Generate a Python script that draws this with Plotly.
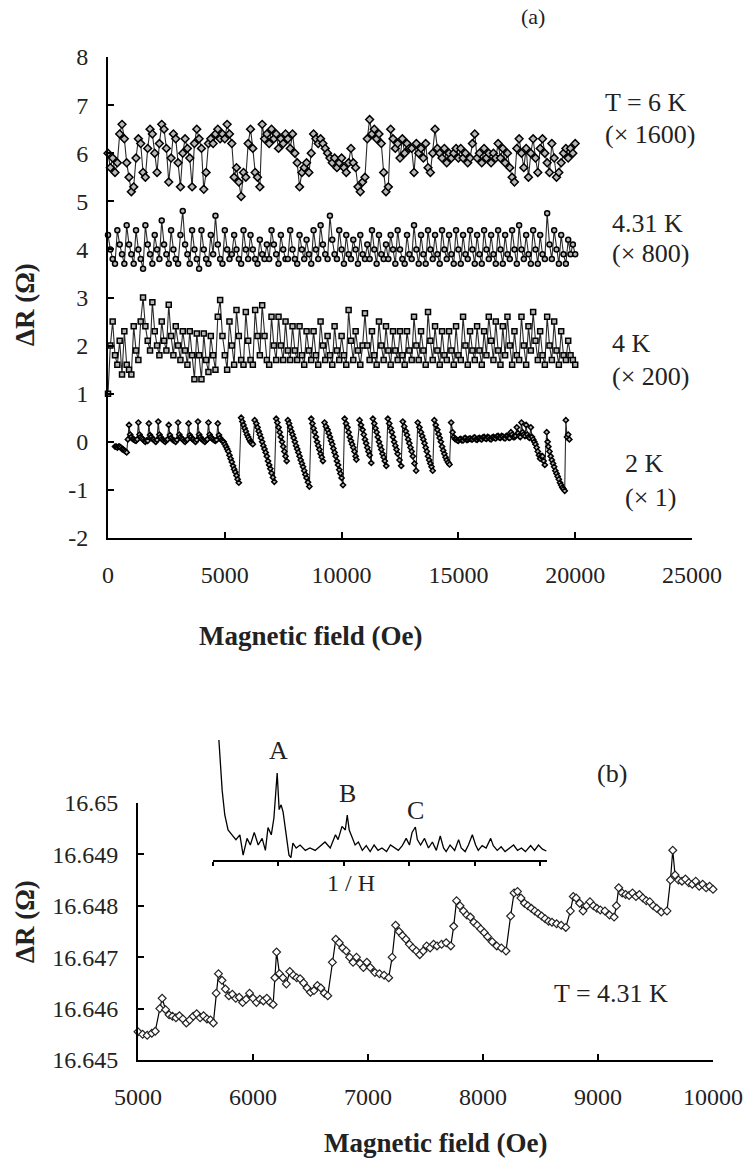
import plotly.graph_objects as go

W, H = 747, 1161
FONT = "Liberation Serif, Times New Roman, serif"

# ---------------- panel (a) data ----------------
field_grid = [
    0, 100, 200, 300, 400, 500, 600, 700, 800, 900,
    1000, 1100, 1200, 1300, 1400, 1500, 1600, 1700, 1800, 1900,
    2000, 2100, 2200, 2300, 2400, 2500, 2600, 2700, 2800, 2900,
    3000, 3100, 3200, 3300, 3400, 3500, 3600, 3700, 3800, 3900,
    4000, 4100, 4200, 4300, 4400, 4500, 4600, 4700, 4800, 4900,
    5000, 5100, 5200, 5300, 5400, 5500, 5600, 5700, 5800, 5900,
    6000, 6100, 6200, 6300, 6400, 6500, 6600, 6700, 6800, 6900,
    7000, 7100, 7200, 7300, 7400, 7500, 7600, 7700, 7800, 7900,
    8000, 8100, 8200, 8300, 8400, 8500, 8600, 8700, 8800, 8900,
    9000, 9100, 9200, 9300, 9400, 9500, 9600, 9700, 9800, 9900,
    10000, 10100, 10200, 10300, 10400, 10500, 10600, 10700, 10800, 10900,
    11000, 11100, 11200, 11300, 11400, 11500, 11600, 11700, 11800, 11900,
    12000, 12100, 12200, 12300, 12400, 12500, 12600, 12700, 12800, 12900,
    13000, 13100, 13200, 13300, 13400, 13500, 13600, 13700, 13800, 13900,
    14000, 14100, 14200, 14300, 14400, 14500, 14600, 14700, 14800, 14900,
    15000, 15100, 15200, 15300, 15400, 15500, 15600, 15700, 15800, 15900,
    16000, 16100, 16200, 16300, 16400, 16500, 16600, 16700, 16800, 16900,
    17000, 17100, 17200, 17300, 17400, 17500, 17600, 17700, 17800, 17900,
    18000, 18100, 18200, 18300, 18400, 18500, 18600, 18700, 18800, 18900,
    19000, 19100, 19200, 19300, 19400, 19500, 19600, 19700, 19800, 19900,
    20000,
]

dR_6K = [
    6.0, 5.7, 5.9, 5.6, 5.8, 6.4, 6.6, 6.3, 5.8, 5.5,
    5.2, 5.3, 5.9, 6.3, 6.2, 5.6, 5.5, 6.1, 6.5, 6.4,
    6.0, 5.6, 6.2, 6.6, 6.5, 6.1, 5.4, 5.9, 6.4, 6.3,
    5.8, 5.3, 6.0, 6.3, 6.1, 5.9, 5.3, 6.2, 6.5, 6.3,
    6.1, 5.25, 5.6, 6.2, 6.3, 6.2, 6.4, 6.5, 6.3, 6.4,
    6.3, 6.6, 6.4, 6.2, 5.5, 5.7, 5.4, 5.1, 5.6, 5.5,
    6.2, 6.5, 6.1, 5.6, 5.5, 5.3, 6.6, 6.3, 6.4, 6.2,
    6.5, 6.3, 6.4, 6.1, 6.3, 6.2, 6.4, 6.3, 6.1, 6.4,
    6.0, 5.8, 5.3, 5.6, 5.7, 5.8, 5.6, 6.0, 6.4, 6.3,
    6.2, 6.3, 6.2, 6.1, 6.0, 5.9, 5.8, 5.9, 5.7, 5.8,
    5.9, 5.7, 5.6, 5.8, 6.1, 5.8, 5.7, 5.3, 5.2, 5.4,
    5.5, 6.3, 6.7, 6.4, 6.5, 6.3, 6.4, 6.2, 5.6, 5.2,
    5.3, 6.5, 6.3, 6.1, 6.2, 5.9, 6.3, 6.0, 6.2, 6.1,
    6.1, 5.6, 6.2, 6.0, 6.1, 5.9, 6.2, 5.7, 5.6, 6.0,
    6.5, 6.1, 6.0, 5.9, 6.1, 5.8, 6.0, 5.9, 6.0, 6.1,
    5.9, 6.1, 5.9, 6.0, 5.8, 5.9, 6.2, 6.4, 5.9, 6.0,
    5.8, 6.1, 5.9, 6.0, 5.8, 6.0, 5.9, 6.2, 5.9, 6.1,
    5.8, 6.0, 5.7, 5.5, 5.4, 6.1, 6.3, 6.0, 5.7, 6.1,
    5.5, 6.0, 6.3, 5.9, 5.6, 6.1, 6.3, 6.0, 5.8, 5.6,
    6.2, 5.9, 5.5, 5.6, 5.8, 6.0, 6.1, 5.9, 6.1, 6.0,
    6.2,
]

dR_431K = [
    4.3, 4.0, 3.8, 3.7, 4.4, 4.1, 3.9, 3.7, 4.5, 4.1,
    3.9, 3.7, 4.4, 4.0, 3.8, 3.6, 4.5, 4.1, 3.9, 3.7,
    4.3, 4.0, 3.8, 4.6, 4.1, 3.9, 3.7, 4.4, 4.0, 3.8,
    3.7, 4.3, 4.8, 4.1, 3.9, 3.7, 4.4, 4.0, 3.8, 3.6,
    4.4, 4.0, 3.8, 3.7, 4.3, 3.9, 4.7, 4.1, 3.8, 3.7,
    4.4, 4.0, 3.8, 3.9, 4.3, 4.0, 3.8, 3.7, 4.4, 4.0,
    3.8, 4.3, 4.0, 3.8, 3.7, 4.2, 3.9, 3.8, 4.1, 3.8,
    4.4, 4.1, 3.9, 3.7, 4.3, 4.0, 3.8, 3.8, 4.4, 4.0,
    3.8, 3.7, 4.3, 4.0, 3.8, 4.2, 3.9, 3.7, 4.4, 4.0,
    3.8, 4.5, 4.1, 3.9, 3.8, 4.7, 4.2, 3.9, 3.8, 4.4,
    4.0, 3.7, 4.3, 3.9, 3.8, 4.2, 4.0, 3.7, 4.3, 3.9,
    3.8, 4.1, 3.8, 4.4, 4.0, 3.7, 4.3, 3.9, 3.8, 4.1,
    3.8, 4.3, 4.0, 3.7, 4.4, 4.0, 3.8, 3.7, 4.3, 3.9,
    3.8, 4.5, 4.0, 3.7, 4.3, 3.9, 3.7, 4.4, 4.0, 3.8,
    4.3, 3.9, 3.7, 4.4, 4.0, 3.8, 4.3, 3.9, 3.7, 4.4,
    4.0, 3.7, 4.3, 3.9, 3.8, 4.4, 4.0, 3.7, 4.3, 3.9,
    3.7, 4.4, 4.0, 3.8, 4.3, 3.9, 3.7, 4.4, 4.0, 3.7,
    4.3, 3.9, 3.8, 4.4, 4.0, 3.7, 4.5, 4.0, 3.8, 4.3,
    3.9, 3.7, 4.4, 4.0, 3.7, 4.3, 3.9, 3.8, 4.75, 4.1,
    3.8, 4.4, 4.0, 3.7, 4.3, 3.9, 3.7, 4.2, 3.9, 4.1,
    3.9,
]

dR_4K = [
    1.0, 2.0, 2.5, 1.8, 1.6, 2.1, 1.4, 2.3, 1.6, 1.5,
    1.4, 2.4, 1.9, 1.7, 2.5, 3.0, 2.4, 2.1, 1.9, 2.9,
    2.3, 2.0, 1.8, 2.5, 2.1, 1.9, 2.85, 2.2, 1.8, 2.4,
    2.0, 1.7, 2.3, 1.9, 1.6, 2.3, 1.8, 1.3, 2.25, 1.8,
    1.3, 2.25, 1.7, 1.45, 2.2, 1.8, 1.5, 2.6, 2.95, 2.2,
    1.8, 1.5, 2.5, 2.0, 1.6, 2.74, 2.2, 1.7, 1.6, 2.7,
    2.1, 1.7, 1.6, 2.74, 2.2, 1.8, 2.84, 2.2, 1.7, 1.6,
    2.6, 2.0, 1.7, 2.6, 2.0, 1.7, 2.5, 1.9, 1.7, 2.4,
    1.9, 1.7, 2.4, 1.8, 1.6, 2.3, 1.9, 1.7, 2.3, 1.8,
    1.6, 2.5, 2.0, 1.7, 2.2, 1.8, 1.6, 2.4, 1.9, 1.7,
    2.2, 1.8, 1.6, 2.74, 2.1, 1.7, 2.3, 1.9, 1.6, 2.0,
    2.67, 2.0, 1.7, 2.3, 1.8, 1.6, 2.5, 2.0, 1.7, 2.4,
    1.9, 1.6, 2.3, 1.9, 1.7, 2.3, 1.8, 1.6, 2.3, 1.9,
    1.7, 2.6, 2.0, 1.7, 2.3, 1.9, 1.6, 2.7, 2.1, 1.7,
    2.4, 1.9, 1.6, 2.3, 1.8, 1.7, 2.3, 1.9, 1.6, 2.4,
    1.8, 1.7, 2.6, 2.0, 1.6, 2.3, 1.9, 1.7, 2.4, 1.9,
    1.6, 2.3, 1.8, 2.6, 2.1, 1.7, 2.5, 1.9, 1.6, 2.4,
    1.8, 2.6, 2.0, 1.6, 2.3, 1.8, 1.7, 2.6, 2.0, 1.6,
    2.4, 1.9, 2.7, 2.1, 1.7, 2.3, 1.8, 1.6, 2.6, 2.0,
    1.7, 2.5, 1.9, 1.6, 2.3, 1.8, 1.7, 2.1, 1.8, 1.7,
    1.6,
]

# 2 K trace: (field, dR) pairs
pts_2K = [
    (300, -0.1), (350, -0.1), (400, -0.12), (450, -0.1), (500, -0.1), (550, -0.12),
    (600, -0.15), (650, -0.16), (700, -0.18), (750, -0.2), (800, -0.22), (850, 0.05),
    (900, 0.35), (950, 0.15), (1000, 0.1), (1050, 0.06), (1100, 0.05), (1150, 0.03),
    (1200, 0.02), (1250, 0.05), (1300, 0.4), (1350, 0.15), (1400, 0.1), (1450, 0.07),
    (1500, 0.05), (1550, 0.02), (1600, 0.0), (1650, 0.03), (1700, 0.02), (1750, 0.38),
    (1800, 0.14), (1850, 0.1), (1900, 0.06), (1950, 0.05), (2000, 0.02), (2050, 0.0),
    (2100, 0.04), (2150, 0.42), (2200, 0.15), (2250, 0.1), (2300, 0.06), (2350, 0.04),
    (2400, 0.02), (2450, 0.0), (2500, 0.03), (2550, 0.05), (2600, 0.35), (2650, 0.14),
    (2700, 0.08), (2750, 0.05), (2800, 0.03), (2850, 0.02), (2900, 0.0), (2950, 0.04),
    (3000, 0.4), (3050, 0.15), (3100, 0.1), (3150, 0.07), (3200, 0.05), (3250, 0.02),
    (3300, 0.0), (3350, 0.03), (3400, 0.05), (3450, 0.38), (3500, 0.14), (3550, 0.1),
    (3600, 0.06), (3650, 0.05), (3700, 0.02), (3750, 0.0), (3800, 0.04), (3850, 0.42),
    (3900, 0.15), (3950, 0.1), (4000, 0.06), (4050, 0.04), (4100, 0.02), (4150, 0.0),
    (4200, 0.03), (4250, 0.05), (4300, 0.4), (4350, 0.15), (4400, 0.1), (4450, 0.07),
    (4500, 0.05), (4550, 0.03), (4600, 0.02), (4650, 0.04), (4700, 0.38), (4750, 0.14),
    (4800, 0.08), (4850, 0.04), (4900, 0.02), (4950, 0.0), (5000, -0.05), (5050, -0.1),
    (5100, -0.15), (5150, -0.2), (5200, -0.28), (5250, -0.35), (5300, -0.42), (5350, -0.5),
    (5400, -0.57), (5450, -0.63), (5500, -0.7), (5550, -0.78), (5600, -0.85),
    (5700, 0.5), (5750, 0.42), (5800, 0.35), (5850, 0.28), (5900, 0.22), (5950, 0.15),
    (6000, 0.1), (6050, 0.05), (6100, 0.0), (6150, -0.02), (6200, -0.05),
    (6280, 0.45), (6350, 0.38), (6400, 0.3), (6450, 0.22), (6500, 0.15), (6550, 0.08),
    (6600, 0.0), (6650, -0.08), (6700, -0.15), (6750, -0.22), (6800, -0.3), (6850, -0.4),
    (6900, -0.48), (6950, -0.56), (7000, -0.65), (7060, -0.74), (7120, -0.83),
    (7200, 0.48), (7250, 0.4), (7300, 0.3), (7350, 0.2), (7400, 0.1), (7450, 0.0),
    (7500, -0.1), (7550, -0.2), (7600, -0.3), (7650, -0.4),
    (7700, 0.45), (7750, 0.38), (7800, 0.3), (7850, 0.22), (7900, 0.15), (7950, 0.08),
    (8000, 0.0), (8050, -0.08), (8100, -0.15), (8150, -0.22), (8200, -0.3), (8250, -0.38),
    (8300, -0.45), (8350, -0.52), (8400, -0.6), (8450, -0.68), (8500, -0.75), (8560, -0.84),
    (8620, -0.93),
    (8700, 0.48), (8750, 0.38), (8800, 0.28), (8850, 0.2), (8900, 0.1), (8950, 0.0),
    (9000, -0.08), (9050, -0.16), (9100, -0.25), (9150, -0.32), (9200, -0.4),
    (9270, 0.4), (9330, 0.32), (9400, 0.25), (9450, 0.18), (9500, 0.1), (9550, 0.02),
    (9600, -0.05), (9650, -0.14), (9700, -0.22), (9750, -0.3), (9800, -0.4), (9850, -0.48),
    (9900, -0.58), (9950, -0.66), (10000, -0.75), (10060, -0.9),
    (10130, 0.48), (10190, 0.38), (10250, 0.3), (10300, 0.2), (10350, 0.1), (10400, 0.02),
    (10450, -0.05), (10500, -0.12), (10550, -0.2), (10600, -0.3), (10630, -0.37),
    (10770, 0.45), (10830, 0.35), (10900, 0.25), (10950, 0.15), (11000, 0.05), (11050, -0.03),
    (11100, -0.12), (11150, -0.2), (11200, -0.28), (11270, -0.44),
    (11340, 0.48), (11400, 0.38), (11450, 0.28), (11500, 0.2), (11550, 0.1), (11600, 0.0),
    (11650, -0.08), (11700, -0.16), (11750, -0.25), (11800, -0.32), (11850, -0.4), (11910, -0.5),
    (11980, 0.48), (12040, 0.38), (12100, 0.28), (12150, 0.2), (12200, 0.1), (12250, 0.0),
    (12300, -0.08), (12350, -0.16), (12400, -0.25), (12480, -0.38), (12550, -0.5),
    (12620, 0.42), (12680, 0.32), (12750, 0.22), (12800, 0.14), (12850, 0.05), (12900, -0.03),
    (12950, -0.12), (13000, -0.2), (13050, -0.3), (13120, -0.45), (13190, -0.6),
    (13260, 0.4), (13330, 0.3), (13400, 0.2), (13450, 0.12), (13500, 0.05), (13550, -0.03),
    (13600, -0.12), (13650, -0.2), (13700, -0.3), (13750, -0.38), (13800, -0.45), (13850, -0.52),
    (13900, -0.6),
    (13970, 0.45), (14030, 0.35), (14100, 0.25), (14150, 0.16), (14200, 0.08), (14250, 0.0),
    (14300, -0.1), (14350, -0.18), (14400, -0.25), (14450, -0.32), (14500, -0.38), (14560, -0.43),
    (14620, -0.47),
    (14690, 0.4), (14750, 0.2), (14800, 0.1), (14850, 0.06), (14900, 0.05), (14950, 0.03),
    (15000, 0.02), (15050, 0.05), (15100, 0.06), (15150, 0.03), (15200, 0.03), (15250, 0.07),
    (15300, 0.08), (15350, 0.04), (15400, 0.04), (15450, 0.06), (15500, 0.07), (15550, 0.05),
    (15600, 0.05), (15650, 0.08), (15700, 0.09), (15750, 0.05), (15800, 0.04), (15850, 0.07),
    (15900, 0.08), (15950, 0.06), (16000, 0.05), (16050, 0.09), (16100, 0.1), (16150, 0.07),
    (16200, 0.06), (16250, 0.1), (16300, 0.09), (16350, 0.06), (16400, 0.05), (16450, 0.09),
    (16500, 0.1), (16550, 0.08), (16600, 0.07), (16650, 0.11), (16700, 0.12), (16750, 0.09),
    (16800, 0.08), (16850, 0.12), (16900, 0.11), (16950, 0.08), (17000, 0.07), (17050, 0.12),
    (17100, 0.12), (17150, 0.09), (17200, 0.08), (17250, 0.2), (17300, 0.15), (17350, 0.1),
    (17400, 0.1), (17450, 0.12), (17500, 0.3), (17550, 0.18), (17600, 0.12), (17650, 0.1),
    (17700, 0.4), (17750, 0.2), (17800, 0.15), (17850, 0.12), (17900, 0.35), (17950, 0.15),
    (18000, 0.1), (18050, 0.08), (18100, 0.3), (18150, 0.1), (18200, 0.05), (18250, 0.0),
    (18300, -0.05), (18350, -0.12), (18400, -0.2), (18450, -0.28), (18500, -0.35), (18550, -0.3),
    (18600, -0.3), (18650, -0.4), (18700, -0.48), (18780, 0.2), (18820, 0.0), (18850, -0.1),
    (18900, -0.2), (18950, -0.3), (19000, -0.38), (19050, -0.45), (19100, -0.52), (19150, -0.6),
    (19200, -0.66), (19250, -0.72), (19300, -0.78), (19350, -0.85), (19400, -0.9), (19450, -0.95),
    (19500, -0.98), (19550, -1.02), (19600, 0.45), (19650, 0.1), (19700, 0.15), (19750, 0.05),
]
field_2K = [p[0] for p in pts_2K]
dR_2K = [p[1] for p in pts_2K]

a_xticks = [0, 5000, 10000, 15000, 20000, 25000]
a_xticktext = ["0", "5000", "10000", "15000", "20000", "25000"]
a_yticks = [-2, -1, 0, 1, 2, 3, 4, 5, 6, 7, 8]
a_yticktext = ["-2", "-1", "0", "1", "2", "3", "4", "5", "6", "7", "8"]

# ---------------- panel (b) data ----------------
pts_b = [
    (5000, 16.64555), (5040, 16.64550), (5080, 16.64548), (5120, 16.64552), (5150, 16.64556),
    (5190, 16.64600), (5210, 16.64620), (5240, 16.64598), (5270, 16.64588), (5300, 16.64585),
    (5330, 16.64582), (5360, 16.64586), (5390, 16.64580), (5420, 16.64572), (5450, 16.64578),
    (5480, 16.64585), (5510, 16.64590), (5540, 16.64582), (5570, 16.64586), (5600, 16.64580),
    (5630, 16.64578), (5655, 16.64572), (5680, 16.64630), (5700, 16.64668), (5730, 16.64655),
    (5760, 16.64638), (5790, 16.64625), (5820, 16.64628), (5850, 16.64620), (5880, 16.64622),
    (5910, 16.64612), (5940, 16.64618), (5970, 16.64630), (6000, 16.64620), (6030, 16.64612),
    (6060, 16.64618), (6090, 16.64615), (6120, 16.64620), (6150, 16.64612), (6175, 16.64608),
    (6190, 16.64660), (6205, 16.64710), (6230, 16.64668), (6260, 16.64660), (6290, 16.64648),
    (6320, 16.64672), (6350, 16.64665), (6380, 16.64660), (6410, 16.64658), (6440, 16.64650),
    (6470, 16.64640), (6500, 16.64632), (6530, 16.64635), (6560, 16.64645), (6590, 16.64640),
    (6620, 16.64630), (6650, 16.64625), (6690, 16.64690), (6720, 16.64735), (6750, 16.64728),
    (6780, 16.64718), (6810, 16.64712), (6840, 16.64700), (6870, 16.64690), (6900, 16.64700),
    (6930, 16.64688), (6960, 16.64680), (6990, 16.64690), (7020, 16.64680), (7060, 16.64670),
    (7100, 16.64668), (7140, 16.64665), (7180, 16.64660), (7210, 16.64700), (7240, 16.64762),
    (7270, 16.64750), (7300, 16.64742), (7330, 16.64735), (7360, 16.64725), (7390, 16.64718),
    (7420, 16.64712), (7450, 16.64705), (7480, 16.64712), (7510, 16.64722), (7540, 16.64718),
    (7570, 16.64725), (7600, 16.64722), (7640, 16.64725), (7680, 16.64728), (7720, 16.64722),
    (7745, 16.64760), (7770, 16.64810), (7800, 16.64800), (7830, 16.64790), (7860, 16.64782),
    (7890, 16.64778), (7920, 16.64768), (7950, 16.64762), (7980, 16.64755), (8010, 16.64748),
    (8040, 16.64740), (8080, 16.64730), (8120, 16.64722), (8160, 16.64718), (8200, 16.64712),
    (8240, 16.64780), (8270, 16.64825), (8300, 16.64828), (8330, 16.64815), (8360, 16.64805),
    (8390, 16.64800), (8420, 16.64795), (8450, 16.64790), (8480, 16.64785), (8510, 16.64780),
    (8540, 16.64775), (8570, 16.64770), (8600, 16.64768), (8640, 16.64765), (8680, 16.64762),
    (8720, 16.64758), (8760, 16.64790), (8785, 16.64818), (8810, 16.64815), (8840, 16.64805),
    (8870, 16.64790), (8900, 16.64800), (8930, 16.64808), (8960, 16.64800), (8990, 16.64795),
    (9020, 16.64792), (9060, 16.64790), (9100, 16.64782), (9140, 16.64778), (9160, 16.64800),
    (9180, 16.64835), (9210, 16.64825), (9240, 16.64822), (9270, 16.64820), (9300, 16.64825),
    (9330, 16.64818), (9360, 16.64822), (9390, 16.64815), (9420, 16.64810), (9450, 16.64808),
    (9480, 16.64800), (9510, 16.64795), (9550, 16.64788), (9600, 16.64790), (9630, 16.64850),
    (9650, 16.64908), (9670, 16.64860), (9700, 16.64850), (9730, 16.64848), (9760, 16.64852),
    (9790, 16.64845), (9820, 16.64842), (9850, 16.64848), (9880, 16.64838), (9910, 16.64842),
    (9940, 16.64835), (9970, 16.64838), (10000, 16.64832), (10030, 16.64830),
]
field_b = [p[0] for p in pts_b]
dR_b = [p[1] for p in pts_b]

b_xticks = [5000, 6000, 7000, 8000, 9000, 10000]
b_xticktext = ["5000", "6000", "7000", "8000", "9000", "10000"]
b_yticks = [16.645, 16.646, 16.647, 16.648, 16.649, 16.65]
b_yticktext = ["16.645", "16.646", "16.647", "16.648", "16.649", "16.65"]

# inset: FFT amplitude vs 1/H (arbitrary units)
pts_inset = [
    (0.09, 1.0), (0.11, 0.83), (0.14, 0.58), (0.18, 0.375), (0.23, 0.25), (0.29, 0.21),
    (0.35, 0.17), (0.41, 0.21), (0.46, 0.04), (0.52, 0.18), (0.57, 0.125), (0.63, 0.23),
    (0.69, 0.125), (0.75, 0.18), (0.80, 0.08), (0.84, 0.27), (0.89, 0.21), (0.93, 0.35),
    (0.98, 0.725), (1.01, 0.42), (1.04, 0.46), (1.07, 0.40), (1.10, 0.29), (1.13, 0.17),
    (1.16, 0.04), (1.19, 0.02), (1.22, 0.14), (1.27, 0.10), (1.33, 0.125), (1.41, 0.08),
    (1.48, 0.10), (1.56, 0.08), (1.64, 0.12), (1.71, 0.15), (1.79, 0.10), (1.87, 0.21),
    (1.91, 0.17), (1.97, 0.28), (2.02, 0.25), (2.05, 0.375), (2.08, 0.25), (2.13, 0.18),
    (2.17, 0.125), (2.22, 0.15), (2.28, 0.08), (2.34, 0.12), (2.40, 0.07), (2.46, 0.125),
    (2.52, 0.08), (2.58, 0.10), (2.65, 0.07), (2.71, 0.125), (2.77, 0.10), (2.83, 0.08),
    (2.89, 0.12), (2.95, 0.18), (3.00, 0.125), (3.04, 0.23), (3.09, 0.275), (3.12, 0.17),
    (3.17, 0.125), (3.23, 0.18), (3.29, 0.10), (3.35, 0.15), (3.41, 0.08), (3.47, 0.20),
    (3.52, 0.10), (3.56, 0.07), (3.62, 0.125), (3.69, 0.08), (3.75, 0.17), (3.79, 0.10),
    (3.85, 0.07), (3.90, 0.125), (3.96, 0.21), (4.01, 0.125), (4.05, 0.08), (4.11, 0.12),
    (4.17, 0.10), (4.24, 0.18), (4.28, 0.12), (4.34, 0.08), (4.40, 0.11), (4.46, 0.07),
    (4.53, 0.10), (4.59, 0.125), (4.65, 0.08), (4.71, 0.10), (4.77, 0.07), (4.85, 0.12),
    (4.91, 0.08), (4.97, 0.125), (5.03, 0.09), (5.09, 0.075),
]
inset_x = [p[0] for p in pts_inset]
inset_y = [p[1] for p in pts_inset]
inset_ticks = [0, 1, 2, 3, 4, 5]


def px(x):
    return x / W


def py(y):
    return 1 - y / H


fig = go.Figure()


def add_a(xs, ys, symbol, size):
    n = min(len(xs), len(ys))
    fig.add_trace(go.Scatter(
        x=xs[:n], y=ys[:n], mode="lines+markers",
        line=dict(color="#2a2a2a", width=1.1),
        marker=dict(symbol=symbol, size=size, color="#b8b8b8",
                    line=dict(color="black", width=1.5)),
        xaxis="x", yaxis="y", cliponaxis=False, showlegend=False))


add_a(field_grid, dR_6K, "diamond", 6)
add_a(field_grid, dR_431K, "circle", 5)
add_a(field_grid, dR_4K, "square", 5)
add_a(field_2K, dR_2K, "diamond", 4)

fig.add_trace(go.Scatter(
    x=field_b, y=dR_b, mode="lines+markers",
    line=dict(color="black", width=1.2),
    marker=dict(symbol="diamond", size=6, color="white",
                line=dict(color="#222222", width=1.2)),
    xaxis="x2", yaxis="y2", cliponaxis=False, showlegend=False))

fig.add_trace(go.Scatter(
    x=inset_x, y=inset_y, mode="lines",
    line=dict(color="black", width=1.3),
    xaxis="x3", yaxis="y3", cliponaxis=False, showlegend=False))

tickfont = dict(family=FONT, size=24, color="#222222")
axis_common = dict(showline=True, linecolor="black", linewidth=2, ticks="inside",
                   ticklen=6, tickwidth=2, tickcolor="black", showgrid=False,
                   zeroline=False, tickfont=tickfont, tickmode="array", automargin=False)

fig.update_layout(
    template="none",
    width=W, height=H, margin=dict(l=0, r=0, t=0, b=0, pad=0, autoexpand=False),
    paper_bgcolor="white", plot_bgcolor="white", showlegend=False,
    xaxis=dict(domain=[px(108), px(692)], range=[0, 25000], anchor="y",
               tickvals=a_xticks, ticktext=a_xticktext, ticklabelstandoff=14, **axis_common),
    yaxis=dict(domain=[py(538), py(57)], range=[-2, 8], anchor="x",
               tickvals=a_yticks, ticktext=a_yticktext, ticklabelstandoff=13, **axis_common),
    xaxis2=dict(domain=[px(138), px(713)], range=[5000, 10000], anchor="y2",
                tickvals=b_xticks, ticktext=b_xticktext, ticklabelstandoff=14, **axis_common),
    yaxis2=dict(domain=[py(1060), py(803)], range=[16.645, 16.65], anchor="x2",
                tickvals=b_yticks, ticktext=b_yticktext, ticklabelstandoff=13, **axis_common),
    xaxis3=dict(domain=[px(213), px(547)], range=[0, 5.1], anchor="y3",
                showline=True, linecolor="black", linewidth=1.5, ticks="outside",
                ticklen=4, tickwidth=1.5, tickcolor="black", showgrid=False,
                zeroline=False, tickmode="array", tickvals=inset_ticks,
                showticklabels=False, automargin=False),
    yaxis3=dict(domain=[py(860), py(740)], range=[0, 1.0], anchor="x3",
                visible=False, automargin=False),
)

ann_font = dict(family=FONT, size=26, color="#222222")
title_font = dict(family=FONT, size=27, color="#222222")
annotations = [
    dict(text="(a)", x=px(533), y=py(17), font=dict(family=FONT, size=22, color="#222222")),
    dict(text="T = 6 K", x=px(603), y=py(102), xanchor="left", font=ann_font),
    dict(text="(× 1600)", x=px(603), y=py(135), xanchor="left", font=ann_font),
    dict(text="4.31 K", x=px(610), y=py(223), xanchor="left", font=ann_font),
    dict(text="(× 800)", x=px(610), y=py(253), xanchor="left", font=ann_font),
    dict(text="4 K", x=px(610), y=py(343), xanchor="left", font=ann_font),
    dict(text="(× 200)", x=px(610), y=py(376), xanchor="left", font=ann_font),
    dict(text="2 K", x=px(623), y=py(463), xanchor="left", font=ann_font),
    dict(text="(× 1)", x=px(623), y=py(497), xanchor="left", font=ann_font),
    dict(text="<b>Magnetic field (Oe)</b>", x=px(310), y=py(636), font=title_font),
    dict(text="<b>ΔR (Ω)</b>", x=px(25), y=py(305), textangle=-90, font=title_font),
    dict(text="(b)", x=px(612), y=py(773), font=ann_font),
    dict(text="T = 4.31 K", x=px(611), y=py(993), font=ann_font),
    dict(text="A", x=px(278), y=py(750), font=ann_font),
    dict(text="B", x=px(347), y=py(793), font=ann_font),
    dict(text="C", x=px(415), y=py(810), font=ann_font),
    dict(text="1 / H", x=px(351), y=py(883), font=dict(family=FONT, size=24, color="#222222")),
    dict(text="<b>Magnetic field (Oe)</b>", x=px(435), y=py(1143), font=title_font),
    dict(text="<b>ΔR (Ω)</b>", x=px(25), y=py(922), textangle=-90, font=title_font),
]
for a in annotations:
    a.setdefault("xanchor", "center")
    a.update(xref="paper", yref="paper", yanchor="middle", showarrow=False)
fig.update_layout(annotations=annotations)

fig.write_html("out.html")
